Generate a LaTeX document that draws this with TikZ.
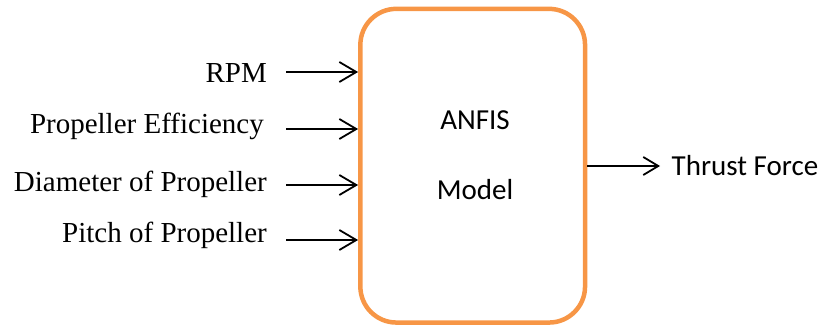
\documentclass[tikz,border=0pt]{standalone}
\usepackage{fontspec}
\setmainfont{Liberation Serif}
\newfontfamily\calib{Carlito}
\usetikzlibrary{arrows.meta}
\definecolor{boxorange}{HTML}{F79646}
\tikzset{
  lab/.style={font=\fontsize{29}{34}\selectfont, inner sep=0pt},
  sanslab/.style={font=\calib\fontsize{29}{34}\selectfont, inner sep=0pt},
  arr/.style={line width=2pt, -{Straight Barb[length=17pt,width=20pt,line width=1.8pt]}},
  arrout/.style={line width=2pt, -{Straight Barb[length=15pt,width=18pt,line width=1.8pt]}},
  modelbox/.style={draw=boxorange, line width=4.5pt, rounded corners=36pt,
    minimum width=224.7pt, minimum height=313.7pt, inner sep=0pt}
}
\begin{document}
\begin{tikzpicture}[x=1pt,y=-1pt]
\useasboundingbox (0,0) rectangle (820,329);
\node[modelbox] (box) at (472.7,165.7) {};
\node[sanslab, anchor=base] (anfis) at (475,129.3) {ANFIS};
\node[sanslab, anchor=base] (model) at (475,199.5) {Model};

\node[lab, anchor=base east] (l1) at (267,82.3) {RPM};
\node[lab, anchor=base east] (l2) at (264,133.3) {Propeller Efficiency};
\node[lab, anchor=base east] (l3) at (267,191.7) {Diameter of Propeller};
\node[lab, anchor=base east] (l4) at (267,242.7) {Pitch of Propeller};

\coordinate (s1) at (286,72);
\coordinate (s2) at (286,129);
\coordinate (s3) at (286,185);
\coordinate (s4) at (286,240);
\draw[arr] (s1) -- (s1 -| box.west);
\draw[arr] (s2) -- (s2 -| box.west);
\draw[arr] (s3) -- (s3 -| box.west);
\draw[arr] (s4) -- (s4 -| box.west);

\node[sanslab, anchor=base west] (out) at (671.5,175) {Thrust Force};
\coordinate (t) at (660,166);
\draw[arrout] (box.east |- t) -- (t);
\end{tikzpicture}
\end{document}
